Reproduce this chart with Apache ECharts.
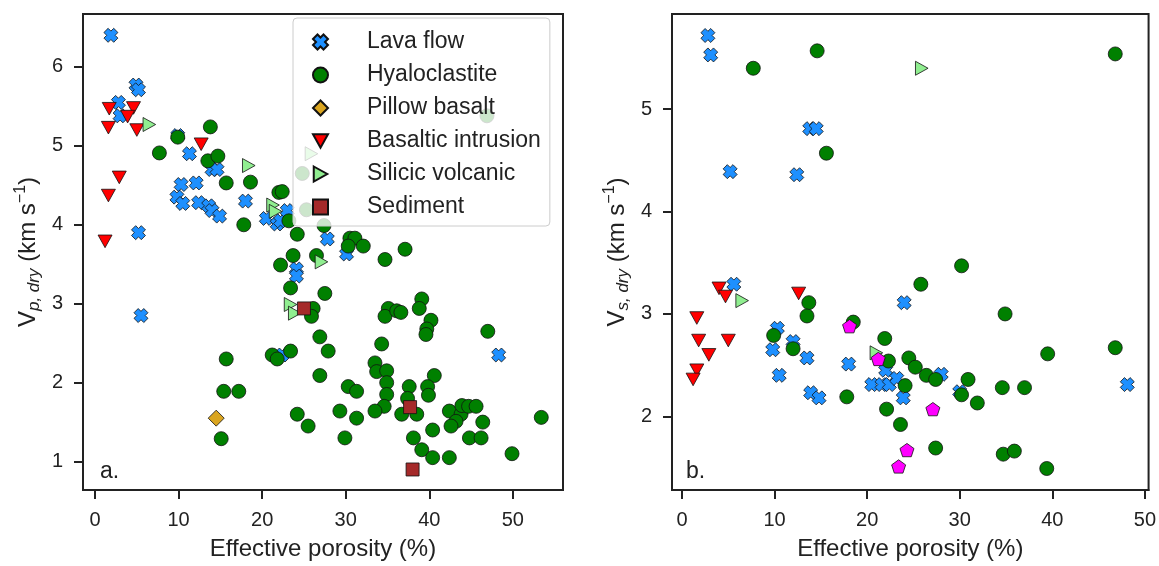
<!DOCTYPE html>
<html>
<head>
<meta charset="utf-8">
<script src="https://cdn.jsdelivr.net/npm/echarts@6/dist/echarts.min.js"></script>
<style>
  html, body { margin: 0; padding: 0; background: #fff; }
  #main { width: 1159px; height: 566px; }
</style>
</head>
<body>
<div id="main"></div>
<script>
// tick labels
var xTicks = [0, 10, 20, 30, 40, 50];
var vpTicks = [1, 2, 3, 4, 5, 6];
var vsTicks = [2, 3, 4, 5];

var legendNames = ['Lava flow', 'Hyaloclastite', 'Pillow basalt', 'Basaltic intrusion', 'Silicic volcanic', 'Sediment'];

// panel a: [effective porosity %, Vp dry km/s]
var vpLava = [[1.9,6.40],[4.9,5.77],[5.2,5.71],[2.8,5.55],[3.0,5.38],[9.9,5.13],[11.3,4.90],[14.0,4.70],[14.6,4.70],
  [10.3,4.51],[12.1,4.53],[18.0,4.30],[9.8,4.35],[10.5,4.27],[12.4,4.28],[13.6,4.24],[14.0,4.18],[14.9,4.11],
  [20.5,4.08],[21.8,4.01],[22.2,4.05],[23.0,4.18],[5.2,3.90],[27.8,3.82],[5.5,2.85],[24.1,3.44],[24.1,3.35],
  [22.4,2.35],[48.3,2.35],[30.1,3.63]];
var vpHyalo = [[13.8,5.24],[9.9,5.11],[7.7,4.91],[13.5,4.81],[14.7,4.87],[15.7,4.53],[18.6,4.54],[22.0,4.41],[22.4,4.42],
  [17.8,4.00],[24.2,3.88],[23.2,4.05],[27.4,3.99],[23.7,3.61],[26.5,3.61],[46.9,5.38],[24.8,4.65],[25.3,4.19],
  [30.5,3.83],[31.1,3.83],[32.1,3.73],[30.3,3.73],[37.1,3.69],[34.7,3.56],[22.2,3.49],[23.4,3.20],[27.5,3.13],
  [26.1,2.94],[25.9,2.84],[26.9,2.58],[27.9,2.40],[26.9,2.09],[23.4,2.40],[21.2,2.35],[21.8,2.30],[15.7,2.30],
  [15.4,1.89],[17.2,1.89],[15.1,1.29],[24.2,1.60],[25.5,1.45],[39.1,3.06],[38.8,2.94],[35.1,2.94],[34.7,2.84],
  [36.1,2.91],[36.6,2.89],[40.2,2.79],[39.7,2.68],[39.6,2.61],[47.0,2.65],[34.3,2.49],[33.5,2.25],[33.7,2.14],
  [34.9,2.15],[34.9,2.00],[34.9,1.85],[34.6,1.70],[40.6,2.09],[39.8,1.95],[39.9,1.84],[37.6,1.95],[37.4,1.80],
  [30.3,1.95],[31.3,1.89],[29.3,1.64],[31.3,1.55],[33.5,1.64],[36.7,1.60],[38.5,1.60],[42.4,1.64],[43.8,1.60],
  [43.2,1.51],[42.6,1.45],[43.9,1.71],[44.7,1.70],[45.6,1.70],[46.4,1.50],[40.4,1.40],[44.8,1.30],[46.2,1.30],
  [38.1,1.30],[29.9,1.30],[39.1,1.15],[40.4,1.05],[42.4,1.05],[49.9,1.10],[53.4,1.56]];
var vpPillow = [[14.5,1.55]];
var vpIntrusion = [[1.7,5.47],[4.6,5.48],[3.9,5.37],[1.6,5.23],[5.0,5.20],[12.7,5.02],[2.9,4.60],[1.6,4.37],[1.2,3.79]];
var vpSilicic = [[6.5,5.27],[18.4,4.75],[21.3,4.25],[21.6,4.17],[27.1,3.53],[23.4,2.99],[23.9,2.88],[25.9,4.90]];
var vpSediment = [[25.0,2.94],[37.7,1.69],[38.0,0.90]];

// panel b: [effective porosity %, Vs dry km/s]
var vsLava = [[2.8,5.72],[3.1,5.53],[13.8,4.81],[14.5,4.81],[5.2,4.39],[12.4,4.36],[5.6,3.29],[10.3,2.86],[9.8,2.65],
  [12.0,2.73],[13.5,2.57],[18.0,2.51],[10.5,2.40],[13.9,2.23],[14.8,2.18],[24.0,3.11],[20.5,2.31],[21.6,2.31],
  [22.4,2.31],[22.0,2.45],[23.2,2.37],[23.9,2.18],[28.0,2.41],[30.0,2.24],[48.1,2.31]];
var vsHyalo = [[14.6,5.57],[7.7,5.40],[15.6,4.57],[46.8,5.54],[13.7,3.11],[13.5,2.98],[9.9,2.79],[12.0,2.66],[18.5,2.92],
  [17.8,2.19],[21.9,2.76],[22.3,2.54],[22.1,2.07],[23.6,1.92],[24.5,2.57],[24.1,2.30],[30.2,3.47],[25.8,3.29],
  [34.9,3.00],[25.2,2.48],[26.4,2.40],[27.4,2.36],[30.9,2.36],[30.2,2.21],[31.9,2.13],[34.6,2.28],[37.0,2.28],
  [39.5,2.61],[46.8,2.67],[27.4,1.69],[34.7,1.63],[35.9,1.66],[39.4,1.49]];
var vsIntrusion = [[4.0,3.25],[4.7,3.17],[12.6,3.20],[1.6,2.96],[1.8,2.74],[5.0,2.74],[2.9,2.60],[1.6,2.45],[1.2,2.36]];
var vsSilicic = [[6.5,3.13],[25.9,5.40],[21.0,2.62]];
var vsOther = [[18.1,2.88],[21.2,2.56],[24.3,1.67],[23.4,1.51],[27.1,2.07]];

var FONT = '"Liberation Sans", Arial, Helvetica, sans-serif';
var INK = '#222';
var xSym = 'path://M0 3L3 0L5 2L7 0L10 3L8 5L10 7L7 10L5 8L3 10L0 7L2 5Z';
var pentSym = 'path://M5 0L9.76 3.45L7.94 9.05L2.06 9.05L0.24 3.45Z';
var downSym = 'path://M0 0L10 0L5 9Z';
var rightSym = 'path://M0 0L9 5L0 10Z';

function sc(name, data, gi, sym, size, color) {
    return {
        name: name,
        type: 'scatter',
        xAxisIndex: gi,
        yAxisIndex: gi,
        data: data,
        symbol: sym,
        symbolSize: size,
        symbolKeepAspect: true,
        itemStyle: { color: color, borderColor: '#111', borderWidth: 0.8, opacity: 1 },
        emphasis: { disabled: true }
    };
}

function xAx(gi, min, max) {
    return {
        type: 'value', gridIndex: gi, min: min, max: max,
        name: 'Effective porosity (%)', nameLocation: 'middle', nameGap: 47,
        nameTextStyle: { fontFamily: FONT, fontSize: 24, color: INK },
        axisLine: { show: true, onZero: false, lineStyle: { color: INK, width: 2 } },
        axisTick: { show: true, length: 9, lineStyle: { color: INK, width: 2 }, customValues: xTicks },
        axisLabel: { fontFamily: FONT, fontSize: 20, color: INK, margin: 20, customValues: xTicks },
        splitLine: { show: false }
    };
}

function yAx(gi, min, max, ticks, subTxt) {
    return {
        type: 'value', gridIndex: gi, min: min, max: max,
        name: '{i|V}{sub|' + subTxt + '} {n|(km s}{sup|\u22121}{n|)}',
        nameLocation: 'middle', nameGap: 40, nameRotate: 90,
        nameTextStyle: {
            fontFamily: FONT, fontSize: 24, color: INK,
            rich: {
                i: { fontFamily: FONT, fontSize: 24, color: INK, lineHeight: 30 },
                n: { fontFamily: FONT, fontSize: 24, color: INK, lineHeight: 30 },
                sub: { fontFamily: FONT, fontSize: 17, fontStyle: 'italic', color: INK, verticalAlign: 'bottom', lineHeight: 17 },
                sup: { fontFamily: FONT, fontSize: 16, color: INK, verticalAlign: 'top', lineHeight: 16 }
            }
        },
        axisLine: { show: true, onZero: false, lineStyle: { color: INK, width: 2 } },
        axisTick: { show: true, length: 9, lineStyle: { color: INK, width: 2 }, customValues: ticks },
        axisLabel: { fontFamily: FONT, fontSize: 20, color: INK, margin: 20, customValues: ticks },
        splitLine: { show: false }
    };
}

var myChart = echarts.init(document.getElementById('main'), null, { renderer: 'canvas' });
var option = {
    animation: false,
    backgroundColor: '#fff',
    grid: [
        { left: 83, top: 14, width: 480, height: 478, show: true, borderColor: INK, borderWidth: 2 },
        { left: 672, top: 14, width: 477, height: 478, show: true, borderColor: INK, borderWidth: 2 }
    ],
    xAxis: [xAx(0, -1.44, 56.0), xAx(1, -1.08, 50.4)],
    yAxis: [yAx(0, 0.64, 6.67, vpTicks, 'p, dry'), yAx(1, 1.28, 5.93, vsTicks, 's, dry')],
    legend: {
        data: legendNames,
        orient: 'vertical',
        left: 293, top: 18,
        padding: [12, 9, 7, 19],
        itemWidth: 15, itemHeight: 15,
        itemGap: 9,
        backgroundColor: 'rgba(255,255,255,0.8)',
        borderColor: '#ccc', borderWidth: 1, borderRadius: 4,
        selectedMode: false,
        formatter: function (name) { return '{g| }' + name; },
        textStyle: {
            fontFamily: FONT, fontSize: 23, color: INK, lineHeight: 24,
            rich: { g: { width: 34 } }
        }
    },
    graphic: [
        { type: 'text', left: 100, top: 460, style: { text: 'a.', fontFamily: FONT, fontSize: 23, fill: INK } },
        { type: 'text', left: 686, top: 460, style: { text: 'b.', fontFamily: FONT, fontSize: 23, fill: INK } }
    ],
    series: [
        sc('Lava flow', vpLava, 0, xSym, 14, '#1E90FF'),
        sc('Hyaloclastite', vpHyalo, 0, 'circle', 14, '#008000'),
        sc('Pillow basalt', vpPillow, 0, 'diamond', 16, '#DAA520'),
        sc('Basaltic intrusion', vpIntrusion, 0, downSym, 14, '#FF0000'),
        sc('Silicic volcanic', vpSilicic, 0, rightSym, 14, '#90EE90'),
        sc('Sediment', vpSediment, 0, 'rect', 13, '#A52A2A'),
        sc('Lava flow', vsLava, 1, xSym, 14, '#1E90FF'),
        sc('Hyaloclastite', vsHyalo, 1, 'circle', 14, '#008000'),
        sc('Basaltic intrusion', vsIntrusion, 1, downSym, 14, '#FF0000'),
        sc('Silicic volcanic', vsSilicic, 1, rightSym, 14, '#90EE90'),
        sc('Other', vsOther, 1, pentSym, 14, '#FF00FF')
    ]
};
myChart.setOption(option);
</script>
</body>
</html>
